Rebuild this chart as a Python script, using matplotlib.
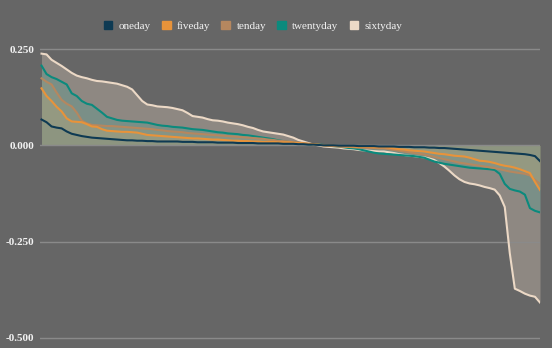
import matplotlib
matplotlib.use("Agg")
import matplotlib.pyplot as plt
from matplotlib.patches import Patch
import numpy as np

# sorted returns per horizon (one value per name, descending)
oneday = [0.067, 0.060, 0.049, 0.046, 0.044, 0.036, 0.030, 0.027, 0.024, 0.022,
          0.020, 0.019, 0.018, 0.017, 0.016, 0.015, 0.014, 0.013, 0.013, 0.012,
          0.012, 0.011, 0.011, 0.010, 0.010, 0.010, 0.010, 0.010, 0.009, 0.009,
          0.009, 0.008, 0.008, 0.008, 0.008, 0.007, 0.007, 0.007, 0.007, 0.006,
          0.006, 0.006, 0.006, 0.005, 0.005, 0.005, 0.005, 0.005, 0.004, 0.004,
          0.004, 0.003, 0.003, 0.002, 0.002, 0.001, 0.000, 0.000, 0.000, -0.001,
          -0.001, -0.001, -0.001, -0.002, -0.002, -0.002, -0.002, -0.003, -0.003, -0.003,
          -0.003, -0.004, -0.004, -0.004, -0.005, -0.005, -0.005, -0.006, -0.006, -0.007,
          -0.007, -0.008, -0.009, -0.010, -0.011, -0.012, -0.013, -0.014, -0.015, -0.016,
          -0.017, -0.018, -0.019, -0.020, -0.021, -0.022, -0.023, -0.025, -0.028, -0.041]

fiveday = [0.148, 0.128, 0.115, 0.100, 0.088, 0.070, 0.062, 0.061, 0.060, 0.055,
           0.049, 0.048, 0.042, 0.038, 0.037, 0.036, 0.035, 0.035, 0.034, 0.033,
           0.030, 0.027, 0.026, 0.025, 0.024, 0.023, 0.022, 0.021, 0.020, 0.019,
           0.018, 0.018, 0.017, 0.016, 0.015, 0.015, 0.014, 0.013, 0.012, 0.012,
           0.011, 0.011, 0.010, 0.010, 0.009, 0.009, 0.009, 0.008, 0.008, 0.008,
           0.007, 0.006, 0.005, 0.004, 0.003, 0.002, 0.000, -0.001, -0.001, -0.002,
           -0.002, -0.003, -0.003, -0.004, -0.004, -0.004, -0.005, -0.005, -0.005, -0.006,
           -0.008, -0.010, -0.011, -0.013, -0.014, -0.015, -0.016, -0.018, -0.020, -0.022,
           -0.023, -0.025, -0.027, -0.028, -0.029, -0.032, -0.036, -0.040, -0.041, -0.043,
           -0.046, -0.050, -0.053, -0.055, -0.058, -0.062, -0.067, -0.072, -0.095, -0.116]

tenday = [0.174, 0.165, 0.158, 0.137, 0.118, 0.108, 0.101, 0.085, 0.064, 0.057,
          0.053, 0.052, 0.051, 0.050, 0.050, 0.049, 0.048, 0.047, 0.046, 0.045,
          0.044, 0.043, 0.042, 0.040, 0.039, 0.037, 0.036, 0.035, 0.034, 0.032,
          0.031, 0.030, 0.029, 0.028, 0.027, 0.026, 0.025, 0.024, 0.023, 0.022,
          0.021, 0.020, 0.019, 0.018, 0.017, 0.015, 0.014, 0.012, 0.011, 0.010,
          0.008, 0.007, 0.006, 0.004, 0.003, 0.001, 0.000, -0.001, -0.002, -0.003,
          -0.004, -0.004, -0.005, -0.006, -0.006, -0.007, -0.007, -0.008, -0.008, -0.010,
          -0.012, -0.014, -0.016, -0.018, -0.020, -0.022, -0.024, -0.027, -0.030, -0.033,
          -0.036, -0.039, -0.042, -0.045, -0.047, -0.049, -0.051, -0.053, -0.055, -0.057,
          -0.059, -0.062, -0.065, -0.068, -0.070, -0.072, -0.074, -0.078, -0.090, -0.100]

twentyday = [0.207, 0.185, 0.177, 0.172, 0.165, 0.158, 0.135, 0.128, 0.115, 0.108,
             0.105, 0.095, 0.085, 0.074, 0.070, 0.066, 0.064, 0.063, 0.062, 0.061,
             0.060, 0.059, 0.056, 0.053, 0.051, 0.050, 0.048, 0.047, 0.046, 0.044,
             0.042, 0.041, 0.040, 0.038, 0.036, 0.034, 0.033, 0.031, 0.030, 0.029,
             0.027, 0.026, 0.024, 0.022, 0.020, 0.018, 0.016, 0.013, 0.011, 0.009,
             0.007, 0.006, 0.004, 0.003, 0.003, 0.002, 0.001, -0.001, -0.002, -0.003,
             -0.005, -0.007, -0.008, -0.010, -0.013, -0.016, -0.019, -0.021, -0.022, -0.023,
             -0.024, -0.025, -0.026, -0.027, -0.028, -0.030, -0.032, -0.037, -0.042, -0.045,
             -0.048, -0.050, -0.052, -0.054, -0.056, -0.058, -0.059, -0.060, -0.061, -0.062,
             -0.064, -0.074, -0.100, -0.113, -0.117, -0.120, -0.128, -0.163, -0.170, -0.174]

sixtyday = [0.238, 0.236, 0.222, 0.214, 0.206, 0.197, 0.188, 0.181, 0.177, 0.174,
            0.170, 0.167, 0.166, 0.164, 0.162, 0.160, 0.156, 0.152, 0.145, 0.130,
            0.115, 0.106, 0.104, 0.101, 0.100, 0.099, 0.097, 0.094, 0.091, 0.084,
            0.076, 0.074, 0.072, 0.068, 0.065, 0.064, 0.062, 0.059, 0.057, 0.055,
            0.052, 0.048, 0.045, 0.040, 0.036, 0.034, 0.032, 0.030, 0.028, 0.024,
            0.020, 0.014, 0.010, 0.006, 0.002, 0.000, -0.003, -0.004, -0.005, -0.006,
            -0.008, -0.009, -0.010, -0.012, -0.013, -0.014, -0.015, -0.016, -0.016, -0.018,
            -0.020, -0.023, -0.025, -0.027, -0.028, -0.030, -0.031, -0.034, -0.038, -0.046,
            -0.055, -0.066, -0.078, -0.088, -0.095, -0.099, -0.101, -0.104, -0.108, -0.111,
            -0.115, -0.130, -0.160, -0.280, -0.372, -0.378, -0.385, -0.390, -0.393, -0.408]

names = ["oneday", "fiveday", "tenday", "twentyday", "sixtyday"]
colors = ["#0e3a53", "#e8933a", "#b5875f", "#0b8a7d", "#ecd9c6"]
yticks = [0.25, 0.0, -0.25, -0.5]
series = [oneday, fiveday, tenday, twentyday, sixtyday]

bg = "#666666"
fig = plt.figure(figsize=(5.52, 3.48), dpi=100, facecolor=bg)
ax = fig.add_axes([40/552, 6/348, 500/552, 297/348], facecolor=bg)

x = np.arange(len(oneday))
for vals, c in zip(series, colors):
  ax.fill_between(x, 0, vals, color=c, alpha=0.3, linewidth=0, zorder=1)

for vals, c in list(zip(series, colors))[::-1]:
  ax.plot(x, vals, color=c, linewidth=1.5, zorder=3)

ax.set_xlim(-0.3, len(x) - 1)
ax.set_ylim(-0.5104, 0.2604)
ax.set_yticks(yticks)
ax.set_yticklabels(["%.3f" % v for v in yticks], color="#f2f2f2",
                   fontfamily="Liberation Serif", fontweight="bold", fontsize=8)
ax.set_xticks([])
ax.tick_params(axis="y", length=0, pad=4)
ax.grid(axis="y", color="#8a8a8a", linewidth=1, zorder=0)
for s in ax.spines.values():
  s.set_visible(False)

# legend across the top
handles = [Patch(facecolor=c, edgecolor=c) for c in colors]
fig.legend(handles, names, loc="center", bbox_to_anchor=(253/552, 1 - 26/348),
           ncol=5, frameon=False, handlelength=0.8, handleheight=0.8,
           handletextpad=0.55, columnspacing=1.0,
           prop={"family": "Liberation Serif", "size": 8}, labelcolor="#f2f2f2")

plt.savefig("out.png", dpi=100, facecolor=bg)
